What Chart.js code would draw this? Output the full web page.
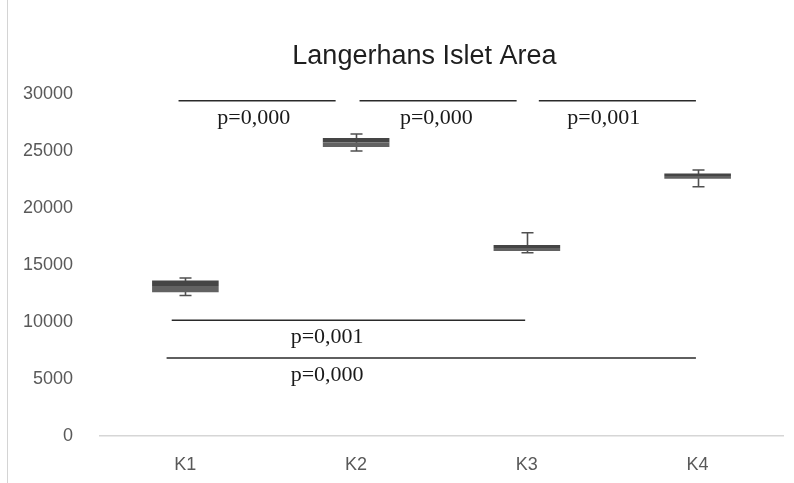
<!DOCTYPE html>
<html>
<head>
<meta charset="utf-8">
<script src="https://cdn.jsdelivr.net/npm/chart.js@4/dist/chart.umd.min.js"></script>
<style>
  html, body { margin: 0; padding: 0; background: #fff; }
  #wrap { position: relative; width: 794px; height: 483px; }
  #edge { position: absolute; left: 7px; top: 0; width: 1px; height: 483px; background: #d4d4d4; }
</style>
</head>
<body>
<div id="wrap">
  <canvas id="chart" width="794" height="483"></canvas>
  <div id="edge"></div>
</div>
<script>
const categories = ['K1', 'K2', 'K3', 'K4'];
const q1 = [12600, 25350, 16230, 22560];
const median = [13150, 25750, 16500, 22800];
const q3 = [13650, 26150, 16750, 23030];
const whiskerLow = [12330, 25000, 16080, 21870];
const whiskerHigh = [13860, 26490, 17830, 23330];
const chartTitle = 'Langerhans Islet Area';

// significance brackets (x in category index units, level in y units)
const pLabels = ['p=0,000', 'p=0,000', 'p=0,001', 'p=0,001', 'p=0,000'];
const pFrom = [-0.04, 1.02, 2.07, -0.08, -0.11];
const pTo = [0.88, 1.94, 2.99, 1.99, 2.99];
const pLevel = [29400, 29400, 29400, 10150, 6850];
const pLabelAt = [0.40, 1.47, 2.45, 0.83, 0.83];

const ctx = document.getElementById('chart').getContext('2d');

const whiskers = {
    id: 'whiskers',
    beforeDatasetsDraw(chart) {
        const x = chart.scales.x, y = chart.scales.y, c = chart.ctx;
        c.save();
        c.strokeStyle = '#505050';
        c.lineWidth = 1.6;
        categories.forEach((cat, i) => {
            const px = Math.round(x.getPixelForValue(i)) + 0.5;
            const top = y.getPixelForValue(whiskerHigh[i]);
            const bot = y.getPixelForValue(whiskerLow[i]);
            c.beginPath();
            c.moveTo(px, top); c.lineTo(px, bot);
            c.moveTo(px - 6, top); c.lineTo(px + 6, top);
            c.moveTo(px - 6, bot); c.lineTo(px + 6, bot);
            c.stroke();
        });
        c.restore();
    }
};

const texts = {
    id: 'texts',
    afterDatasetsDraw(chart) {
        const xp = chart.scales.xp, y = chart.scales.y, c = chart.ctx;
        c.save();
        c.textAlign = 'center';
        c.textBaseline = 'middle';
        // title
        c.fillStyle = '#1e1e1e';
        c.font = '27px "Liberation Sans", Arial, sans-serif';
        c.fillText(chartTitle, xp.getPixelForValue(1.4), 57);
        // p values
        c.fillStyle = '#1a1a1a';
        c.font = '22px "Liberation Serif", "Times New Roman", serif';
        pLabels.forEach((t, i) => {
            c.fillText(t, xp.getPixelForValue(pLabelAt[i]), y.getPixelForValue(pLevel[i]) + 17);
        });
        c.restore();
    }
};

const lineSets = pLabels.map((t, i) => ({
    type: 'line',
    label: t,
    xAxisID: 'xp',
    data: [{ x: pFrom[i], y: pLevel[i] }, { x: pTo[i], y: pLevel[i] }],
    borderColor: '#2a2a2a',
    borderWidth: 1.5,
    pointRadius: 0,
    fill: false
}));

new Chart(ctx, {
    type: 'bar',
    data: {
        labels: categories,
        datasets: [
            {
                label: 'Q1-median',
                data: q1.map((v, i) => [v, median[i]]),
                backgroundColor: '#626262',
                grouped: false,
                barPercentage: 0.39,
                categoryPercentage: 1
            },
            {
                label: 'median-Q3',
                data: median.map((v, i) => [v, q3[i]]),
                backgroundColor: '#454545',
                grouped: false,
                barPercentage: 0.39,
                categoryPercentage: 1
            },
            ...lineSets
        ]
    },
    options: {
        responsive: false,
        animation: false,
        layout: { padding: { left: 23, right: 11, top: 94, bottom: 0 } },
        plugins: {
            legend: { display: false },
            tooltip: { enabled: false },
            title: { display: false }
        },
        scales: {
            x: {
                grid: { display: false, drawTicks: false },
                border: { display: true, color: '#d6d6d6', width: 1.5 },
                ticks: {
                    color: '#595959',
                    padding: 18,
                    font: { family: '"Liberation Sans", Arial, sans-serif', size: 18 }
                },
                afterFit: s => { s.height = 47; }
            },
            xp: {
                type: 'linear',
                display: false,
                offset: false,
                min: -0.5,
                max: 3.5
            },
            y: {
                min: 0,
                max: 30000,
                grid: { display: false, drawTicks: false },
                border: { display: false },
                ticks: {
                    stepSize: 5000,
                    color: '#595959',
                    padding: 27,
                    font: { family: '"Liberation Sans", Arial, sans-serif', size: 18 },
                    callback: v => String(v)
                },
                afterFit: s => { s.width = 77; }
            }
        }
    },
    plugins: [whiskers, texts]
});
</script>
</body>
</html>
